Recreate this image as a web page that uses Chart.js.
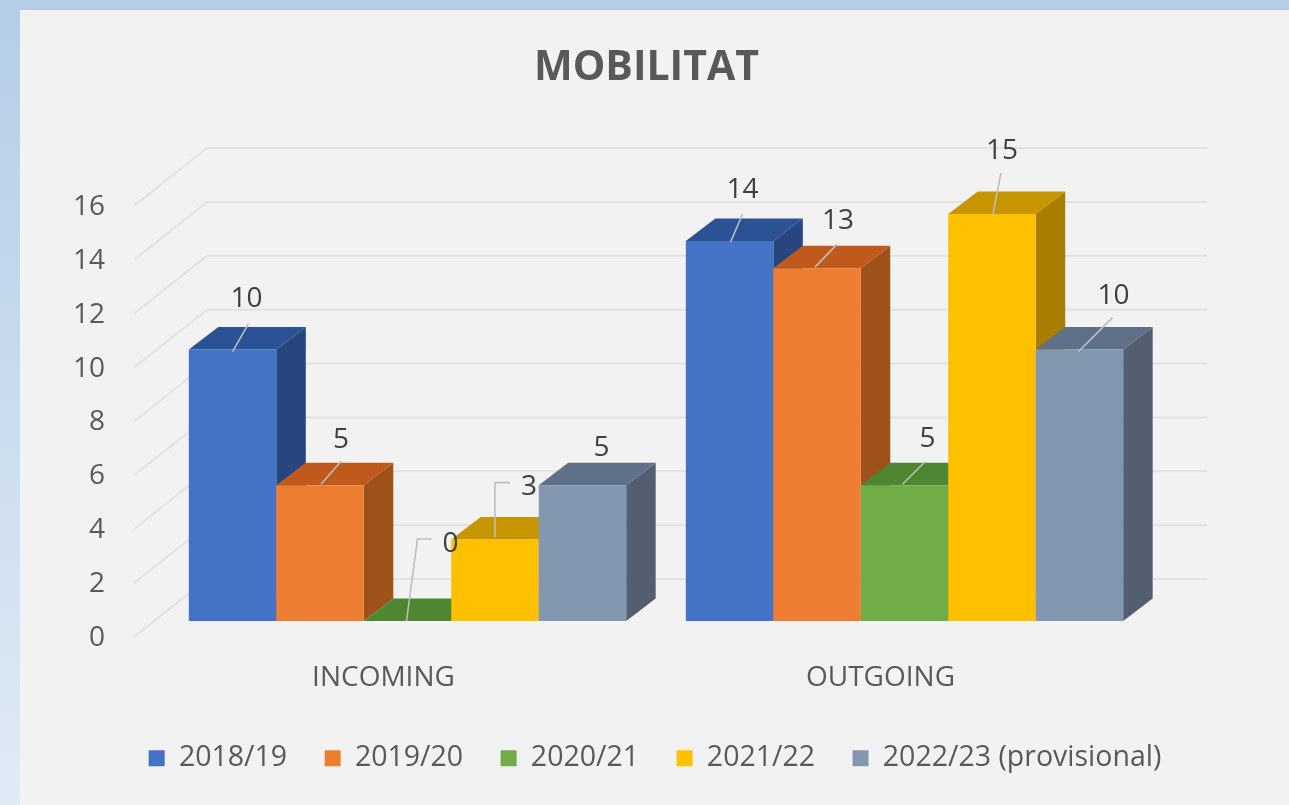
<!DOCTYPE html>
<html>
<head>
<meta charset="utf-8">
<style>
html,body{margin:0;padding:0;width:1289px;height:805px;overflow:hidden;background:linear-gradient(180deg,#b4cde6 0%,#dfeaf5 100%);}
#panel{position:absolute;left:20px;top:10px;right:0;bottom:0;background:#f2f2f2;}
#wrap{position:absolute;left:0;top:0;width:1289px;height:805px;}
canvas{filter:blur(0.4px);}
</style>
<script src="https://cdn.jsdelivr.net/npm/chart.js@4"></script>
</head>
<body>
<div id="panel"></div>
<div id="wrap"><canvas id="c" width="1289" height="805"></canvas></div>
<script>
const categories = ['INCOMING', 'OUTGOING'];
const seriesNames = ['2018/19', '2019/20', '2020/21', '2021/22', '2022/23 (provisional)'];
const values2018 = [10, 14];
const values2019 = [5, 13];
const values2020 = [0, 5];
const values2021 = [3, 15];
const values2022 = [5, 10];
const yTicks = [0, 2, 4, 6, 8, 10, 12, 14, 16];
const frontColors = ['#4472c4', '#ed7d31', '#70ad47', '#ffc000', '#8497b0'];
const topColors = ['#2c5296', '#c05a1c', '#4f8632', '#c79500', '#5f7089'];
const sideColors = ['#27467f', '#9e5219', '#43682b', '#a87e00', '#535f70'];
const textColor = '#595959';
const fontFamily = '"Open Sans", sans-serif';

// Label placement relative to the bar's front top-centre: text offset, then leader polyline.
const labelLayout = [
  [{t:[14,-51], l:[[0,2],[16,-26]]}, {t:[13,-51], l:[[1,1],[13,-27]]}],
  [{t:[21,-45], l:[[1,-1],[21,-24]]}, {t:[21,-47], l:[[-2,-1],[20,-24]]}],
  [{t:[43,-77], l:[[-1,0],[10,-82],[24,-82]]}, {t:[23,-46], l:[[-2,-1],[20,-23]]}],
  [{t:[34,-53], l:[[0,-2],[0,-57],[15,-57]]}, {t:[10,-63], l:[[1,0],[9,-41]]}],
  [{t:[19,-37], l:null}, {t:[34,-54], l:[[-1,2],[33,-32]]}]
];

const BAR_DX = 24, BAR_DY = -17;    // front plane of the bars vs. the axis plane
const DEPTH_X = 29.5, DEPTH_Y = -22.5; // bar depth
const WALL_BACK_X = 207, WALL_BACK_DY = -59, WALL_FRONT_X = 134, WALL_FRONT_DY = -1, WALL_RIGHT = 1207;

const threeD = {
  id: 'threeD',
  afterLayout(chart) {
    chart.titleBlock.right = 1293;
    chart.legend.left = 21; chart.legend.right = 1289;
    chart.legend.top -= 22.5; chart.legend.bottom -= 22.5;
  },
  beforeDatasetsDraw(chart) {
    const ctx = chart.ctx, y = chart.scales.y;
    ctx.save();
    ctx.strokeStyle = '#e2e2e2';
    ctx.lineWidth = 2;
    yTicks.forEach(v => {
      const p = y.getPixelForValue(v);
      ctx.beginPath();
      ctx.moveTo(WALL_FRONT_X, p + WALL_FRONT_DY);
      ctx.lineTo(WALL_BACK_X, p + WALL_BACK_DY);
      ctx.lineTo(WALL_RIGHT, p + WALL_BACK_DY);
      ctx.stroke();
    });
    ctx.restore();
    ctx.save();
    ctx.translate(BAR_DX, BAR_DY);
    chart.data.datasets.forEach((ds, i) => {
      const meta = chart.getDatasetMeta(i);
      meta.data.forEach(b => {
        const {x, y: top, base, width} = b.getProps(['x','y','base','width'], true);
        const r = x + width / 2, l = x - width / 2;
        ctx.fillStyle = sideColors[i];
        ctx.beginPath();
        ctx.moveTo(r, top); ctx.lineTo(r + DEPTH_X, top + DEPTH_Y);
        ctx.lineTo(r + DEPTH_X, base + DEPTH_Y); ctx.lineTo(r, base);
        ctx.closePath(); ctx.fill();
        ctx.fillStyle = topColors[i];
        ctx.beginPath();
        ctx.moveTo(l, top); ctx.lineTo(l + DEPTH_X, top + DEPTH_Y);
        ctx.lineTo(r + DEPTH_X, top + DEPTH_Y); ctx.lineTo(r, top);
        ctx.closePath(); ctx.fill();
      });
      meta.controller.draw();
    });
    ctx.restore();
    return false;
  },
  afterDraw(chart) {
    const ctx = chart.ctx;
    ctx.save();
    ctx.font = '28px ' + fontFamily;
    ctx.textAlign = 'center';
    ctx.textBaseline = 'middle';
    chart.data.datasets.forEach((ds, i) => {
      chart.getDatasetMeta(i).data.forEach((b, j) => {
        const ox = b.x + BAR_DX, oy = b.y + BAR_DY, lay = labelLayout[i][j];
        if (lay.l) {
          ctx.strokeStyle = '#bdbdbd';
          ctx.lineWidth = 1.6;
          ctx.beginPath();
          lay.l.forEach((pt, k) => k ? ctx.lineTo(ox + pt[0], oy + pt[1]) : ctx.moveTo(ox + pt[0], oy + pt[1]));
          ctx.stroke();
        }
        ctx.fillStyle = '#404040';
        ctx.fillText(String(ds.data[j]), ox + lay.t[0], oy + lay.t[1]);
      });
    });
    ctx.restore();
  }
};

const seriesValues = [values2018, values2019, values2020, values2021, values2022];

new Chart(document.getElementById('c'), {
  type: 'bar',
  data: {
    labels: categories,
    datasets: seriesNames.map((n, i) => ({
      label: n,
      data: seriesValues[i],
      backgroundColor: frontColors[i],
      borderWidth: 0,
      yAxisID: 'yBars',
      barPercentage: 1,
      categoryPercentage: 0.88,
      clip: false
    }))
  },
  options: {
    responsive: false,
    animation: false,
    layout: { padding: { left: 0, right: 160, top: 0, bottom: 0 } },
    plugins: {
      tooltip: { enabled: false },
      title: {
        display: true,
        text: 'MOBILITAT',
        color: textColor,
        font: { family: fontFamily, size: 41, weight: 'bold', lineHeight: 1 },
        padding: { top: 48, bottom: 118 }
      },
      legend: {
        position: 'bottom',
        labels: {
          boxWidth: 16, boxHeight: 16,
          padding: 37.5,
          color: textColor,
          font: { family: fontFamily, size: 28.5 }
        }
      }
    },
    scales: {
      x: {
        grid: { display: false, drawTicks: false },
        border: { display: false },
        ticks: { color: textColor, font: { family: fontFamily, size: 28 }, padding: 23, maxRotation: 0 },
        afterFit(s) { s.height = 91; }
      },
      y: {
        position: 'left',
        min: 0, max: 16,
        afterFit(s) { s.width = 135; },
        afterBuildTicks(s) { s.ticks = yTicks.map(v => ({ value: v })); },
        grid: { display: false, drawTicks: false },
        border: { display: false },
        ticks: { color: textColor, font: { family: fontFamily, size: 28 }, padding: 30 }
      },
      yBars: { display: false, min: 0, max: 15.88 }
    }
  },
  plugins: [threeD]
});
</script>
</body>
</html>
